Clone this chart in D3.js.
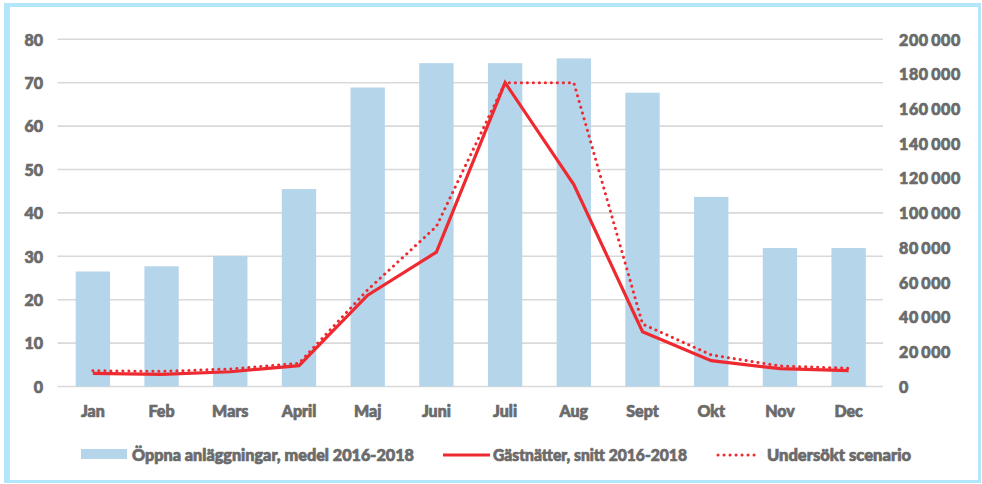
<!DOCTYPE html>
<html>
<head>
<meta charset="utf-8">
<script src="https://cdn.jsdelivr.net/npm/d3@7"></script>
<style>
  body { margin: 0; background: #fff; }
  text { font-family: Lato, "Open Sans", sans-serif; font-weight: 900; fill: #6b6b6b; stroke: #6b6b6b; stroke-width: 0.7px; }
</style>
</head>
<body>
<svg id="chart"></svg>
<script>
// months
var months = ["Jan", "Feb", "Mars", "April", "Maj", "Juni", "Juli", "Aug", "Sept", "Okt", "Nov", "Dec"]

// open facilities, average 2016-2018 (left axis)
var openFacilities = [26.5, 27.7, 30.1, 45.5, 68.9, 74.5, 74.5, 75.6, 67.7, 43.7, 31.9, 31.9]

// guest nights, average 2016-2018 (right axis)
var guestNights = [7600, 7000, 8500, 12000, 52600, 77400, 175000, 116300, 31600, 14900, 10300, 9100]

// scenario (right axis)
var scenario = [9100, 8700, 10100, 13400, 55700, 92200, 175000, 175000, 36000, 18200, 11800, 10500]

var leftTicks = [0, 10, 20, 30, 40, 50, 60, 70, 80]
var rightTicks = [0, 20000, 40000, 60000, 80000, 100000, 120000, 140000, 160000, 180000, 200000]

var legendNames = ["Öppna anläggningar, medel 2016-2018", "Gästnätter, snitt 2016-2018", "Undersökt scenario"]

var dimensions = { width: 982, height: 484 }

var svg = d3.select("#chart")
  .attr("width", dimensions.width)
  .attr("height", dimensions.height)

// light blue frame
var frame = "#b3e6fb"
svg.append("rect").attr("x", 4).attr("y", 3).attr("width", 6).attr("height", 480).attr("fill", frame)
svg.append("rect").attr("x", 4).attr("y", 3).attr("width", 977).attr("height", 4).attr("fill", frame)
svg.append("rect").attr("x", 978).attr("y", 3).attr("width", 3).attr("height", 480).attr("fill", frame)
svg.append("rect").attr("x", 4).attr("y", 480).attr("width", 977).attr("height", 3).attr("fill", frame)

// scales
var x = d3.scaleBand()
  .domain(months)
  .range([58.5, 883])
  .paddingInner(0.5)
  .paddingOuter(0.25)

var yLeft = d3.scaleLinear()
  .domain([0, 80])
  .range([386.5, 39.3])

var yRight = d3.scaleLinear()
  .domain([0, 200000])
  .range([386.5, 39.3])

// gridlines
svg.append("g")
  .selectAll("line")
  .data(leftTicks)
  .join("line")
  .attr("x1", 57.6)
  .attr("x2", 883)
  .attr("y1", d => yLeft(d))
  .attr("y2", d => yLeft(d))
  .attr("stroke", "#d9d9d9")
  .attr("stroke-width", 1.6)

// left axis
var leftAxis = svg.append("g")
  .attr("transform", "translate(43,0)")
  .call(d3.axisLeft(yLeft).tickValues(leftTicks).tickSize(0).tickPadding(0))
leftAxis.select(".domain").remove()
leftAxis.selectAll("text").attr("font-size", 16).attr("fill", null).attr("dy", "0.36em")

// right axis
var fmt = d3.format(",")
var rightAxis = svg.append("g")
  .attr("transform", "translate(899,0)")
  .call(d3.axisRight(yRight).tickValues(rightTicks).tickSize(0).tickPadding(0)
    .tickFormat(d => fmt(d).replace(/,/g, "\u2009")))
rightAxis.select(".domain").remove()
rightAxis.selectAll("text").attr("font-size", 16).attr("fill", null).attr("dy", "0.36em")
  .attr("letter-spacing", 0.6)

// bottom axis
var bottomAxis = svg.append("g")
  .attr("transform", "translate(0,386.5)")
  .call(d3.axisBottom(x).tickSize(0).tickPadding(0))
bottomAxis.select(".domain").remove()
bottomAxis.selectAll("text").attr("font-size", 16).attr("fill", null).attr("dy", null).attr("y", 30)

// bars
svg.append("g")
  .selectAll("rect")
  .data(openFacilities)
  .join("rect")
  .attr("x", (d, i) => x(months[i]))
  .attr("width", x.bandwidth())
  .attr("y", d => yLeft(d))
  .attr("height", d => yLeft(0) - yLeft(d))
  .attr("fill", "#b5d5eb")

// lines
var line = d3.line()
  .x((d, i) => x(months[i]) + x.bandwidth() / 2)
  .y(d => yRight(d))

svg.append("path")
  .datum(guestNights)
  .attr("d", line)
  .attr("fill", "none")
  .attr("stroke", "#ee2a30")
  .attr("stroke-width", 3.2)

svg.append("path")
  .datum(scenario)
  .attr("d", line)
  .attr("fill", "none")
  .attr("stroke", "#ee2a30")
  .attr("stroke-width", 3)
  .attr("stroke-linecap", "round")
  .attr("stroke-dasharray", "0.1 5.9")

// legend
var legend = svg.append("g")

legend.append("rect")
  .attr("x", 81).attr("y", 449)
  .attr("width", 46).attr("height", 10)
  .attr("fill", "#b5d5eb")

legend.append("line")
  .attr("x1", 443).attr("x2", 490)
  .attr("y1", 455).attr("y2", 455)
  .attr("stroke", "#ee2a30").attr("stroke-width", 3.2)

legend.append("line")
  .attr("x1", 718).attr("x2", 760)
  .attr("y1", 455).attr("y2", 455)
  .attr("stroke", "#ee2a30").attr("stroke-width", 3)
  .attr("stroke-linecap", "round")
  .attr("stroke-dasharray", "0.1 5.9")

var legendX = [132, 493, 767]
var legendW = [282, 194, 144]

legend.selectAll("text.lbl")
  .data(legendNames)
  .join("text")
  .attr("class", "lbl")
  .attr("x", (d, i) => legendX[i])
  .attr("y", 455)
  .attr("dy", "0.36em")
  .attr("font-size", 16)
  .attr("textLength", (d, i) => legendW[i])
  .attr("lengthAdjust", "spacingAndGlyphs")
  .text(d => d)
</script>
</body>
</html>
